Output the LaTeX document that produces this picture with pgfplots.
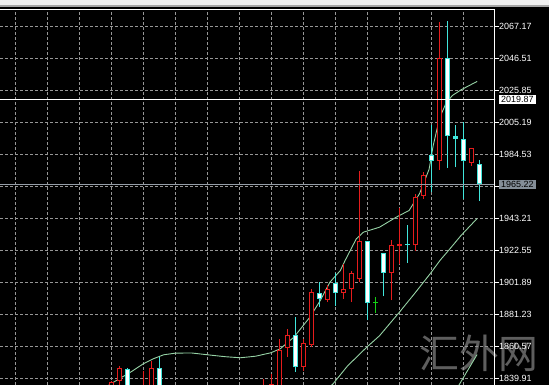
\documentclass[border=0pt]{standalone}
\usepackage{pgfplots}
\pgfplotsset{compat=1.18}
\usepackage{pgfplotstable}
\usepackage{fontspec}
\setmainfont{Liberation Sans}
\newfontfamily\cjk{Noto Sans CJK SC}
\definecolor{cred}{RGB}{230,28,28}
\definecolor{ccyan}{RGB}{64,230,220}
\definecolor{cma}{RGB}{150,210,165}
\definecolor{cgrid}{RGB}{150,150,150}
\definecolor{cdoji}{RGB}{20,210,20}
\definecolor{clabel}{RGB}{132,142,152}
\definecolor{cline}{RGB}{150,158,168}
\definecolor{cwm}{RGB}{105,105,105}

\pgfplotstableread{
u O H L C
12 1826.0 1838.0 1822.0 1837.5
13 1838.2 1847.7 1834.0 1846.8
16 1826.0 1845.0 1824.0 1834.0
17 1833.0 1851.5 1830.0 1846.8
31 1825.0 1839.7 1822.0 1833.0
32 1825.0 1842.5 1822.0 1836.5
33 1832.0 1865.5 1828.0 1858.4
34 1859.5 1872.0 1853.7 1868.1
36 1847.2 1865.5 1845.0 1862.7
37 1861.7 1897.8 1860.1 1895.6
39 1890.7 1900.0 1889.2 1897.8
41 1895.0 1913.9 1891.4 1897.8
42 1897.8 1909.2 1889.2 1907.9
43 1904.3 1974.2 1902.0 1929.0
47 1907.9 1929.5 1890.3 1926.2
48 1925.3 1950.1 1914.0 1926.9
50 1925.8 1959.2 1922.5 1957.0
51 1957.6 1973.1 1955.9 1971.0
53 1980.2 2069.9 1974.7 2046.9
57 1978.9 1989.0 1977.4 1988.9
}\redcandles

\pgfplotstableread{
u O H L C
14 1846.2 1846.8 1830.0 1832.0
18 1846.8 1854.1 1832.0 1834.0
35 1867.7 1879.5 1844.0 1847.2
38 1895.0 1902.1 1885.9 1891.4
40 1901.4 1907.9 1887.0 1895.0
44 1929.0 1929.0 1877.4 1888.5
46 1920.8 1921.0 1892.9 1907.9
49 1926.9 1938.7 1914.4 1925.8
52 1984.5 2003.3 1960.2 1980.2
54 2046.9 2070.6 1975.9 1996.2
55 1996.2 2003.3 1976.3 1994.4
56 1994.7 2005.4 1955.9 1980.2
58 1978.5 1981.1 1954.4 1965.22
}\cyancandles

\pgfplotsset{
  candle/.style={only marks, mark=*, mark size=0pt, mark options={draw=none, fill=none}},
}

\begin{document}
\begin{tikzpicture}
\fill[black] (0,0) rectangle (549bp,385bp);
\fill[black!6] (0,380bp) rectangle (549bp,385bp);
\fill[black!35] (0,378bp) rectangle (549bp,380bp);
\node[text=cwm, opacity=0.9, font=\cjk\fontsize{40}{40}\selectfont] at (479bp,32bp) {汇外网};
\begin{axis}[
  at={(0,0)}, anchor=south west, scale only axis,
  width=495bp, height=376bp,
  xmin=-1.9375, xmax=59.9375, ymin=1835.72, ymax=2078.47,
  axis line style={draw=none},
  xtick={0,4,...,56}, xticklabels={}, xtick style={draw=none},
  ytick={1839.91,1860.57,1881.23,1901.89,1922.55,1943.21,1963.87,1984.53,2005.19,2025.85,2046.51,2067.17},
  yticklabels={1839.91,1860.57,1881.23,1901.89,1922.55,1943.21,,1984.53,2005.19,2025.85,2046.51,2067.17},
  ytick pos=right, yticklabel pos=right, tick align=outside, major tick length=4bp,
  ytick style={white, line width=1bp},
  yticklabel style={white, font=\fontsize{9}{10}\selectfont, anchor=west, inner sep=0pt},
  grid=major, major grid style={cgrid, line width=1bp, dash pattern=on 3bp off 2bp},
]
% moving averages
\addplot[cma, line width=0.9bp] coordinates {
(11.0,1833.5) (11.6,1835.4) (12.6,1838.6) (14.5,1844.4) (16,1849.5) (17.2,1852.6)
(18.5,1855.2) (20,1856.3) (22,1856.4) (24.4,1855.0) (26.2,1854.0) (28.1,1853.3)
(30,1854.3) (31.9,1856.5) (33.1,1859.1) (34.8,1866.6) (36.8,1879.5) (38.1,1890.3)
(39.3,1902.1) (40.6,1909.6) (41.2,1916.1) (42.6,1930.1) (43.5,1934.4) (45.5,1937.6)
(47.6,1944.1) (49.2,1948.4) (50.5,1959.2) (51.7,1975.0) (52.2,1990.0) (53.0,2008.0)
(53.8,2017.5) (54.6,2022.6) (55.7,2026.3) (57.7,2031.7)};
\addplot[cma, line width=0.9bp] coordinates {
(39,1833) (39.7,1836.5) (41.5,1848) (43.9,1860.1) (45.5,1867.5) (48,1882.8)
(50,1895.5) (51.9,1908) (53.1,1916.4) (54.2,1923) (55.7,1932.3) (57.7,1943.2)};
\addplot[cma, line width=0.9bp] coordinates {(55.1,1832) (55.4,1835.4) (57.7,1855.4)};
% red (up) candles
\addplot[candle, error bars/.cd, y dir=plus, y explicit,
  error bar style={cred, line width=1bp}, error mark=none]
  table[x=u, y=L, y error expr=\thisrow{H}-\thisrow{L}] {\redcandles};
\addplot[candle, error bars/.cd, y dir=plus, y explicit,
  error bar style={cred, line width=5bp}, error mark=none]
  table[x=u, y=O, y error expr=\thisrow{C}-\thisrow{O}] {\redcandles};
\addplot[candle, x filter/.expression={abs(\thisrow{C}-\thisrow{O})<2 ? nan : x},
  error bars/.cd, y dir=plus, y explicit,
  error bar style={black, line width=3bp, shorten <=1bp, shorten >=1bp}, error mark=none]
  table[x=u, y=O, y error expr=\thisrow{C}-\thisrow{O}] {\redcandles};
% cyan (down) candles
\addplot[candle, error bars/.cd, y dir=plus, y explicit,
  error bar style={ccyan, line width=1bp}, error mark=none]
  table[x=u, y=L, y error expr=\thisrow{H}-\thisrow{L}] {\cyancandles};
\addplot[candle, error bars/.cd, y dir=plus, y explicit,
  error bar style={ccyan, line width=5bp}, error mark=none]
  table[x=u, y=C, y error expr=\thisrow{O}-\thisrow{C}] {\cyancandles};
\addplot[candle, x filter/.expression={abs(\thisrow{C}-\thisrow{O})<2 ? nan : x},
  error bars/.cd, y dir=plus, y explicit,
  error bar style={white, line width=3bp, shorten <=1bp, shorten >=1bp}, error mark=none]
  table[x=u, y=C, y error expr=\thisrow{O}-\thisrow{C}] {\cyancandles};
% doji
\addplot[candle, error bars/.cd, y dir=plus, y explicit,
  error bar style={cdoji, line width=1bp}, error mark=none]
  coordinates {(45,1882.1) += (0,10.3)};
\addplot[only marks, mark=-, mark size=2.5bp, mark options={cdoji, line width=1bp}]
  coordinates {(45,1889.2)};
% price lines
\addplot[white, line width=1bp] coordinates {(-2,2019.87) (61,2019.87)};
\addplot[cline, line width=1bp] coordinates {(-2,1965.22) (61,1965.22)};
\coordinate (lw) at (axis cs:59.9375,2019.87);
\coordinate (lg) at (axis cs:59.9375,1965.22);
\end{axis}
\draw[white, line width=1bp] (0,375.5bp) -- (494.5bp,375.5bp) -- (494.5bp,0);
\node[anchor=west, fill=white, text=black, inner xsep=2bp, inner ysep=1.3bp,
  font=\fontsize{9}{10}\selectfont, xshift=4bp] at (lw) {2019.87};
\node[anchor=west, fill=clabel, text=black, inner xsep=2bp, inner ysep=1.3bp,
  font=\fontsize{9}{10}\selectfont, xshift=4bp] at (lg) {1965.22};
\pgfresetboundingbox
\useasboundingbox (0,0) rectangle (549bp,385bp);
\end{tikzpicture}
\end{document}
